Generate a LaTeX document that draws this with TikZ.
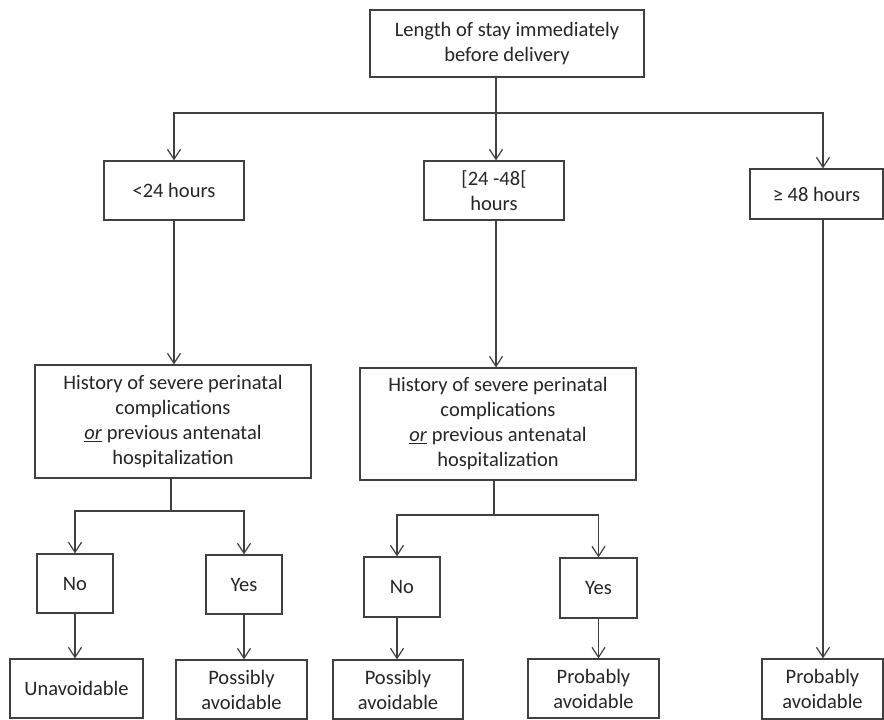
\documentclass[tikz,border=0pt]{standalone}
\usepackage{fontspec}
\setmainfont{Carlito}
\usetikzlibrary{arrows.meta}
\begin{document}
\begin{tikzpicture}[x=1pt,y=-1pt,
  box/.style={draw=black!75, line width=1.2pt, text=black!85, align=center,
    font=\fontsize{20.5}{25}\selectfont, inner sep=0pt},
  ln/.style={draw=black!75, line width=1.2pt},
  arr/.style={ln, -{Straight Barb[length=10pt,width=13pt,line width=1.2pt]}}]
\useasboundingbox (0,0) rectangle (884,720);
\fill[white] (0,0) rectangle (884,720);
% nodes
\node[box, minimum width=274, minimum height=67] (top) at (507,43.5) {Length of stay immediately\\before delivery};
\node[box, minimum width=140, minimum height=59] (lt) at (174,190.5) {<24 hours};
\node[box, minimum width=140, minimum height=59] (mid) at (494,190.5) {[24 -48[\\hours};
\node[box, minimum width=133, minimum height=50] (ge) at (816.5,194) {≥ 48 hours};
\node[box, minimum width=276, minimum height=113] (h1) at (173,421.5) {History of severe perinatal\\complications\\\underline{\textit{or}} previous antenatal\\hospitalization};
\node[box, minimum width=276, minimum height=112] (h2) at (498,424) {History of severe perinatal\\complications\\\underline{\textit{or}} previous antenatal\\hospitalization};
\node[box, minimum width=76, minimum height=59] (no1) at (75,583.5) {No};
\node[box, minimum width=76, minimum height=59] (yes1) at (244,584.5) {Yes};
\node[box, minimum width=76, minimum height=60] (no2) at (402,587) {No};
\node[box, minimum width=77, minimum height=60] (yes2) at (598.5,588) {Yes};
\node[box, minimum width=133, minimum height=59] (unav) at (76.5,688.5) {Unavoidable};
\node[box, minimum width=131, minimum height=59] (pos1) at (241.5,689.5) {Possibly\\avoidable};
\node[box, minimum width=130, minimum height=59] (pos2) at (398,689.5) {Possibly\\avoidable};
\node[box, minimum width=131, minimum height=59] (prb1) at (593.5,688.5) {Probably\\avoidable};
\node[box, minimum width=121, minimum height=60] (prb2) at (822.5,689) {Probably\\avoidable};
% junctions
\coordinate (j0) at (496,113);
\coordinate (j1) at (171,511);
\coordinate (j2) at (494,515);
\coordinate (c48) at (823,113);
\coordinate (cn2) at (397,515);
% top level
\draw[ln] (top.south -| j0) -- (j0);
\draw[arr] (j0) -| (lt.north);
\draw[arr] (j0) -- (j0 |- mid.north);
\draw[arr] (j0) -- (c48) -- (c48 |- ge.north);
% second level
\draw[arr] (lt.south) -- (lt.south |- h1.north);
\draw[arr] (mid.south -| j0) -- (j0 |- h2.north);
\draw[arr] (c48 |- ge.south) -- (c48 |- prb2.north);
% branches
\draw[ln] (h1.south -| j1) -- (j1);
\draw[arr] (j1) -| (no1.north);
\draw[arr] (j1) -| (yes1.north);
\draw[ln] (h2.south -| j2) -- (j2);
\draw[arr] (j2) -- (cn2) -- (cn2 |- no2.north);
\draw[arr] (j2) -| (yes2.north);
% leaves
\draw[arr] (no1.south) -- (no1.south |- unav.north);
\draw[arr] (yes1.south) -- (yes1.south |- pos1.north);
\draw[arr] (cn2 |- no2.south) -- (cn2 |- pos2.north);
\draw[arr] (yes2.south) -- (yes2.south |- prb1.north);
\end{tikzpicture}
\end{document}
